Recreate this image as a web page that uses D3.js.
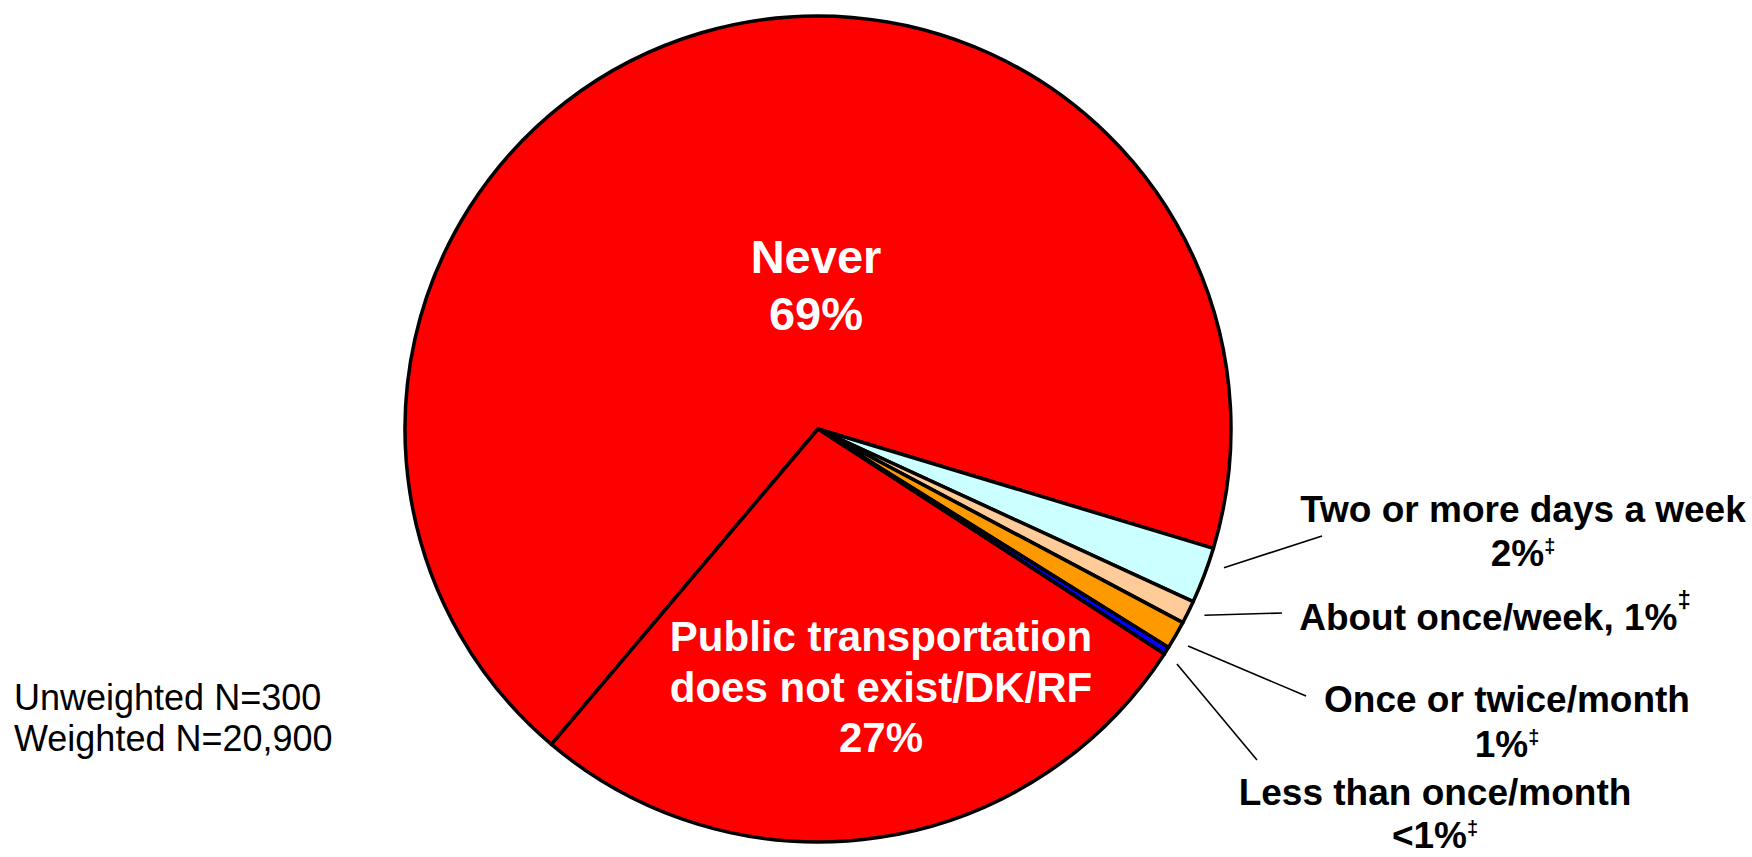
<!DOCTYPE html>
<html>
<head>
<meta charset="utf-8">
<script src="https://cdn.jsdelivr.net/npm/d3@7"></script>
<style>
  body { margin: 0; background: #fff; }
  svg { display: block; font-family: "Liberation Sans", Arial, sans-serif; }
</style>
</head>
<body>
<svg width="1752" height="857"></svg>
<script>
// frequency of public transportation use
var categories = ["Never", "Two or more days a week", "About once/week", "Once or twice/month",
                  "Less than once/month", "Public transportation does not exist/DK/RF"];
var values = [68.5, 2.2, 0.9, 1.1, 0.3, 27.0];
var pctLabels = ["69%", "2%", "1%", "1%", "<1%", "27%"];
var flagged = [false, true, true, true, true, false]; // ‡ marker
var labelLines = [
  ["Never", "{pct}"],
  ["Two or more days a week", "{pct}"],
  ["About once/week, {pct}"],
  ["Once or twice/month", "{pct}"],
  ["Less than once/month", "{pct}"],
  ["Public transportation", "does not exist/DK/RF", "{pct}"]
];
var notes = ["Unweighted N=300", "Weighted N=20,900"];

var colors = ["#ff0000", "#ccffff", "#ffcc99", "#ff9900", "#0000ff", "#ff0000"];

// label layout (x center, first baseline, line height, size, leader end, leader angle nudge in degrees)
var layout = [
  {x: 816, y: 273, lh: 57, size: 47, fill: "white"},
  {x: 1523, y: 522, lh: 44, size: 37, fill: "black", lx: 1322, ly: 536, nudge: -1.9},
  {x: 1495, y: 630, lh: 44, size: 37, fill: "black", lx: 1282, ly: 613, nudge: -0.6},
  {x: 1507, y: 712, lh: 45, size: 37, fill: "black", lx: 1306, ly: 696, nudge: 0.45},
  {x: 1435, y: 805, lh: 43, size: 37, fill: "black", lx: 1257, ly: 760, nudge: 0.75},
  {x: 881, y: 651, lh: 50.5, size: 42, fill: "white"}
];

var svg = d3.select("svg"),
    cx = 818, cy = 429, radius = 413;

var data = categories.map(function(c, i) { return {name: c, value: values[i], i: i}; });

var start = 220.2 * Math.PI / 180;
var pie = d3.pie()
    .sort(null)
    .value(function(d) { return d.value; })
    .startAngle(start)
    .endAngle(start + 2 * Math.PI);

var arc = d3.arc().innerRadius(0).outerRadius(radius);

var arcs = pie(data);

var g = svg.append("g")
    .attr("transform", "translate(" + cx + "," + cy + ")");

g.selectAll("path.slice")
    .data(arcs)
    .enter()
    .append("path")
    .attr("class", "slice")
    .attr("d", arc)
    .attr("fill", function(d) { return colors[d.data.i]; })
    .attr("stroke", "black")
    .attr("stroke-width", 3.5)
    .attr("stroke-linejoin", "round");

// leader lines for the small slices, starting just outside the rim
function leaderStart(d) {
  var a = (d.startAngle + d.endAngle) / 2 + layout[d.data.i].nudge * Math.PI / 180,
      r = radius + 16;
  return [r * Math.sin(a), -r * Math.cos(a)];
}

g.selectAll("line.leader")
    .data(arcs.filter(function(d) { return layout[d.data.i].lx; }))
    .enter()
    .append("line")
    .attr("class", "leader")
    .attr("x1", function(d) { return leaderStart(d)[0]; })
    .attr("y1", function(d) { return leaderStart(d)[1]; })
    .attr("x2", function(d) { return layout[d.data.i].lx - cx; })
    .attr("y2", function(d) { return layout[d.data.i].ly - cy; })
    .attr("stroke", "black")
    .attr("stroke-width", 1.6);

// labels
arcs.forEach(function(d) {
  var i = d.data.i, L = layout[i];
  var t = svg.append("text")
      .attr("text-anchor", "middle")
      .attr("font-weight", "bold")
      .attr("font-size", L.size)
      .attr("fill", L.fill);
  labelLines[i].forEach(function(line, k) {
    var parts = line.split("{pct}");
    t.append("tspan")
        .attr("x", L.x)
        .attr("y", L.y + k * L.lh)
        .text(parts[0] + (parts.length > 1 ? pctLabels[i] : ""));
    if (parts.length > 1 && flagged[i]) {
      t.append("tspan")
          .attr("font-size", i === 2 ? 24 : 20)
          .attr("dy", i === 2 ? -22 : -13)
          .text("\u2021");
    }
  });
});

svg.append("g")
    .selectAll("text")
    .data(notes)
    .enter()
    .append("text")
    .attr("x", 14)
    .attr("y", function(d, i) { return 710 + i * 41; })
    .attr("font-size", 36)
    .attr("fill", "black")
    .text(function(d) { return d; });
</script>
</body>
</html>
